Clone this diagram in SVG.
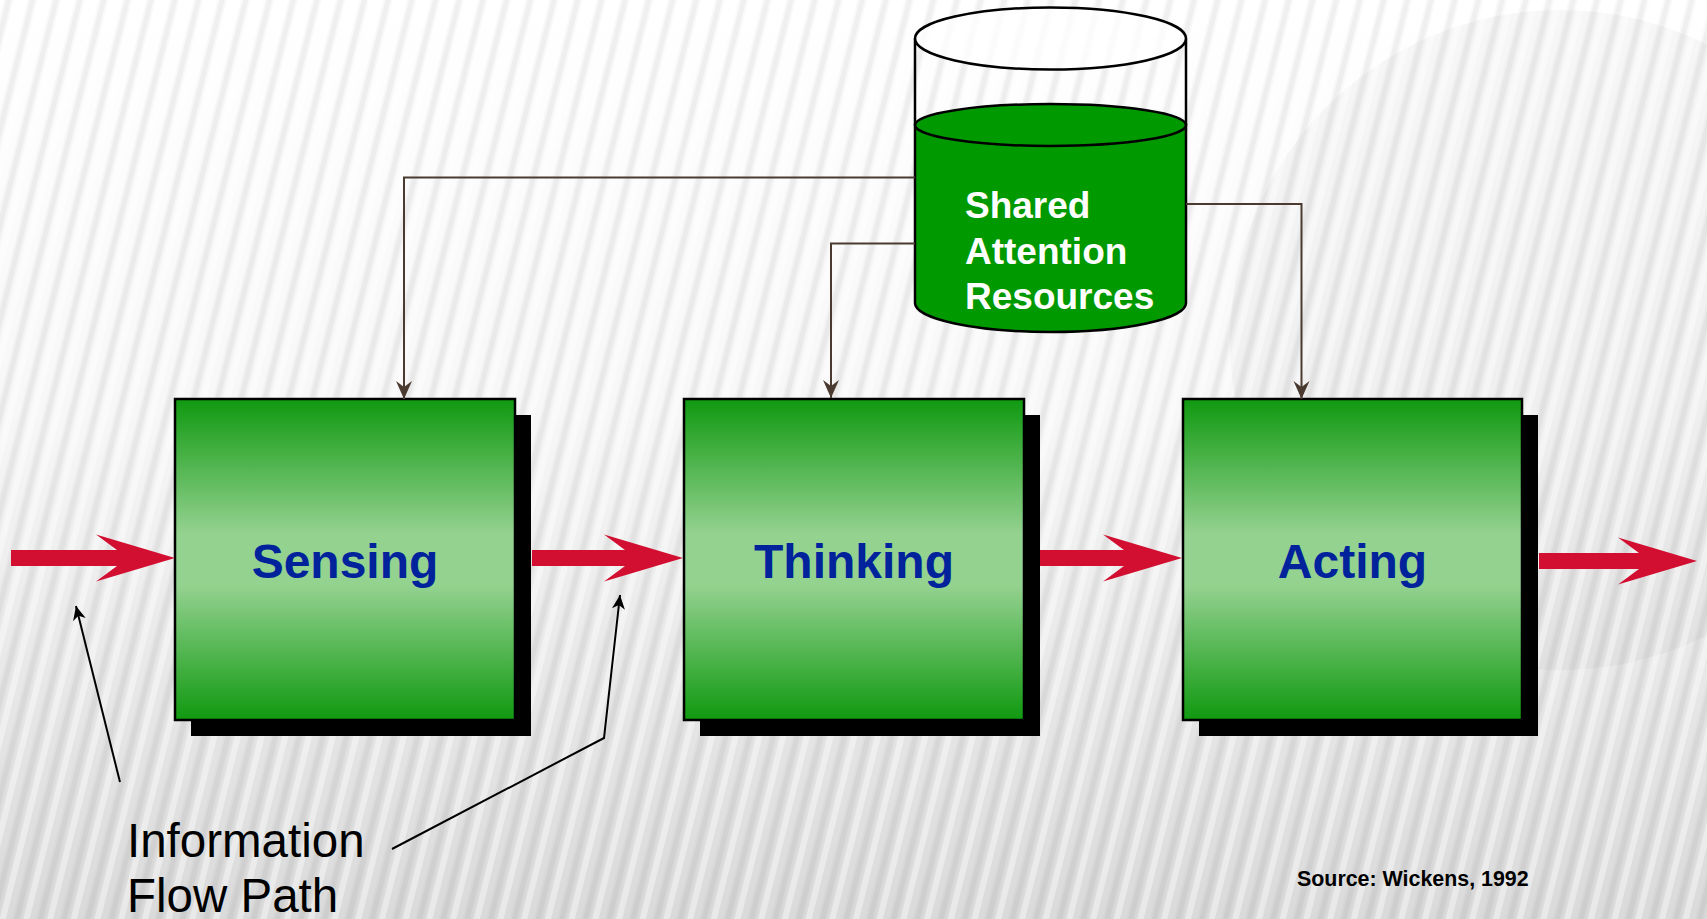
<svg xmlns="http://www.w3.org/2000/svg" width="1707" height="919" viewBox="0 0 1707 919">
  <defs>
    <linearGradient id="bg" x1="0" y1="0" x2="0" y2="1">
      <stop offset="0" stop-color="#ffffff"/>
      <stop offset="0.45" stop-color="#f7f7f7"/>
      <stop offset="1" stop-color="#dadada"/>
    </linearGradient>
    <pattern id="stripes" width="23" height="40" patternUnits="userSpaceOnUse" patternTransform="rotate(14)">
      <rect x="4" y="0" width="9" height="40" fill="#000" opacity="0.022"/>
      <rect x="6" y="0" width="5" height="40" fill="#000" opacity="0.035"/>
      <rect x="15" y="0" width="6" height="40" fill="#fff" opacity="0.4"/>
    </pattern>
    <linearGradient id="boxfill" x1="0" y1="0" x2="0" y2="1">
      <stop offset="0" stop-color="#109910"/>
      <stop offset="0.42" stop-color="#94d290"/>
      <stop offset="0.58" stop-color="#94d290"/>
      <stop offset="1" stop-color="#109910"/>
    </linearGradient>
    <marker id="brownHead" markerUnits="userSpaceOnUse" markerWidth="20" markerHeight="20" refX="18" refY="8" orient="auto">
      <path d="M0,0 L18,8 L0,16 L6,8 Z" fill="#4b3a30"/>
    </marker>
    <marker id="blackHead" markerUnits="userSpaceOnUse" markerWidth="16" markerHeight="14" refX="14" refY="6.5" orient="auto">
      <path d="M0,0 L14,6.5 L0,13 L4,6.5 Z" fill="#000"/>
    </marker>
    <style>
      .shadow { fill: #000; }
      .box { fill: url(#boxfill); stroke: #000; stroke-width: 2.5; }
      .boxlabel { font-family: "Liberation Sans", Arial, sans-serif; font-weight: bold; font-size: 48px; fill: #00239c; text-anchor: middle; }
      .flow { fill: #d20f31; }
      .link { fill: none; stroke: #4b3a30; stroke-width: 2; marker-end: url(#brownHead); }
      .note { fill: none; stroke: #000; stroke-width: 2; marker-end: url(#blackHead); }
      .cyl { stroke: #000; stroke-width: 2.5; }
      .cyltext { font-family: "Liberation Sans", Arial, sans-serif; font-weight: bold; font-size: 37px; fill: #ffffff; }
      .info { font-family: "Liberation Sans", Arial, sans-serif; font-size: 47.5px; fill: #000; }
      .src { font-family: "Liberation Sans", Arial, sans-serif; font-weight: bold; font-size: 21.4px; fill: #000; }
    </style>
  </defs>

  <g id="background">
    <rect x="0" y="0" width="1707" height="919" fill="url(#bg)"/>
    <circle cx="1560" cy="340" r="330" fill="#000" opacity="0.03"/>
    <rect x="0" y="0" width="1707" height="919" fill="url(#stripes)"/>
  </g>

  <g id="resources">
    <path class="cyl" d="M915,125 L915,303 A135.5,29 0 0 0 1186,303 L1186,125 Z" fill="#009900"/>
    <ellipse class="cyl" cx="1050.5" cy="125" rx="135.5" ry="21" fill="#009900"/>
    <line class="cyl" x1="915" y1="38.5" x2="915" y2="125"/>
    <line class="cyl" x1="1186" y1="38.5" x2="1186" y2="125"/>
    <ellipse class="cyl" cx="1050.5" cy="38.5" rx="135.5" ry="31" fill="#ffffff" fill-opacity="0.75"/>
    <text class="cyltext" x="965" y="218">Shared</text>
    <text class="cyltext" x="965" y="264">Attention</text>
    <text class="cyltext" x="965" y="309">Resources</text>
  </g>

  <g id="sensing">
    <rect class="shadow" x="191" y="415" width="340" height="321"/>
    <rect class="box" x="175" y="399" width="340" height="321"/>
    <text class="boxlabel" x="345" y="578">Sensing</text>
  </g>

  <g id="thinking">
    <rect class="shadow" x="700" y="415" width="340" height="321"/>
    <rect class="box" x="684" y="399" width="340" height="321"/>
    <text class="boxlabel" x="854" y="578">Thinking</text>
  </g>

  <g id="acting">
    <rect class="shadow" x="1199" y="415" width="339" height="321"/>
    <rect class="box" x="1183" y="399" width="339" height="321"/>
    <text class="boxlabel" x="1352.5" y="578">Acting</text>
  </g>

  <g id="connectors">
    <polygon class="flow" points="11,550 117,550 96,534.5 175,558 96,581.5 117,566 11,566"/>
    <polygon class="flow" points="532,550 625,550 604,534.5 683,558 604,581.5 625,566 532,566"/>
    <polygon class="flow" points="1040,550 1124,550 1103,534.5 1182,558 1103,581.5 1124,566 1040,566"/>
    <polygon class="flow" points="1539,553 1639,553 1618,537.5 1697,561 1618,584.5 1639,569 1539,569"/>
    <path class="link" d="M915,177.5 H404 V399"/>
    <path class="link" d="M915,243.5 H831 V398"/>
    <path class="link" d="M1186,204 H1301.5 V399"/>
    <path class="note" d="M120,782 L76,606"/>
    <path class="note" d="M392,849 L604,738 L620,595"/>
  </g>

  <g id="label-info">
    <text class="info" x="127" y="857">Information</text>
    <text class="info" x="127" y="912">Flow Path</text>
  </g>

  <g id="source">
    <text class="src" x="1297" y="885.5">Source: Wickens, 1992</text>
  </g>
</svg>
